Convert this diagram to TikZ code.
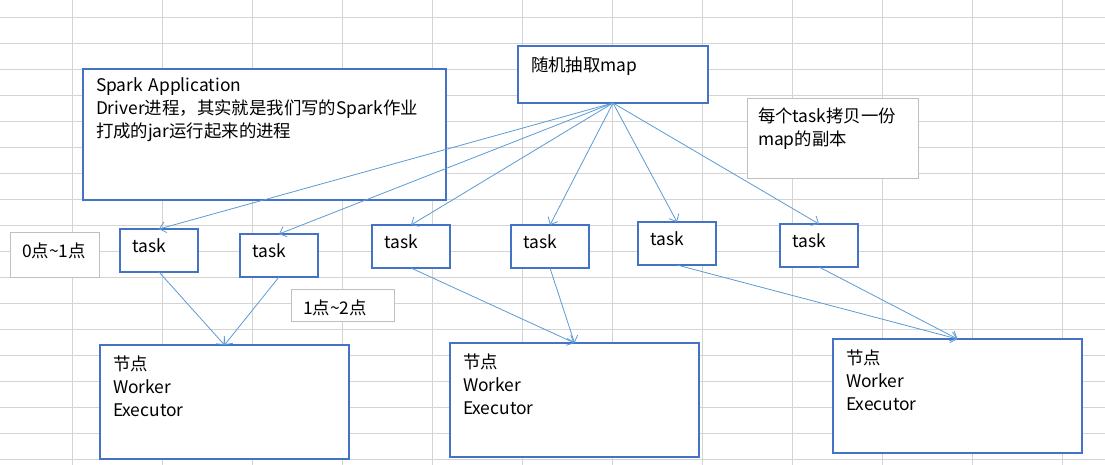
\documentclass[tikz,border=0pt]{standalone}
\usepackage{fontspec}
\setmainfont{Noto Sans CJK SC}
\usetikzlibrary{arrows.meta}
\definecolor{boxblue}{HTML}{4472C4}
\definecolor{lineblue}{HTML}{5B9BD5}
\definecolor{cellgray}{HTML}{D4D4D4}
\definecolor{notegray}{HTML}{BFBFBF}
\tikzset{
  txt/.style={anchor=north west, align=left, inner ysep=0pt, outer sep=0pt,
    font=\fontsize{17.4}{23}\selectfont},
  bluebox/.style={txt, draw=boxblue, line width=2.3pt, fill=white},
  graybox/.style={txt, draw=notegray, line width=1pt, fill=white},
  taskbox/.style={bluebox, inner xsep=12.5pt, text width=53pt, text height=23pt, text depth=20pt},
  workerbox/.style={bluebox, inner xsep=13pt, text width=223pt, text height=25pt, text depth=89pt},
  flow/.style={draw=lineblue, line width=0.8pt, -{Straight Barb[length=6pt,width=11pt]}}
}
\begin{document}
\begin{tikzpicture}[x=1pt,y=-1pt]
   \useasboundingbox[fill=white] (0,0) rectangle (1105,465);
   \foreach \x in {0,...,11} \draw[cellgray, line width=0.8pt] (72.7+90*\x,0) -- (72.7+90*\x,465);
   \foreach \y in {0,...,17} \draw[cellgray, line width=0.8pt] (0,17.3+26*\y) -- (1105,17.3+26*\y);
   \node[bluebox, inner xsep=13pt, text width=337pt, text height=23pt, text depth=108pt] (driver) at (83,69)
     {Spark Application\\Driver进程，其实就是我们写的Spark作业\\打成的jar运行起来的进程};
   \node[bluebox, inner xsep=13pt, text width=164pt, text height=26pt, text depth=31pt] (map) at (518,46) {随机抽取map};
   \node[graybox, inner xsep=11pt, text width=149pt, text height=24pt, text depth=56pt] (copy) at (747,99) {每个task拷贝一份\\map的副本};
   \node[graybox, inner xsep=12pt, text width=65pt, text height=25pt, text depth=20pt] (slot1) at (10,232) {0点\textasciitilde1点};
   \node[graybox, inner xsep=12pt, text width=79pt, text height=25pt, text depth=7pt] (slot2) at (291,289) {1点\textasciitilde2点};
   \foreach \n/\x/\y in
     {1/120/229,
      2/240/234,
      3/372/225,
      4/511/225,
      5/638/222,
      6/780/224
     }
     \node[taskbox] (t\n) at (\x,\y) {task};
   \foreach \n/\x/\y in {1/100/345, 2/450/343, 3/833/339}
     \node[workerbox] (w\n) at (\x,\y) {节点\\Worker\\Executor};
   \foreach \i in {1,...,6} \draw[flow] (map.south) -- (t\i.north);
   \foreach \t/\w in {1/1, 2/1, 3/2, 4/2, 5/3, 6/3} \draw[flow] (t\t.south) -- (w\w.north);
\end{tikzpicture}
\end{document}
